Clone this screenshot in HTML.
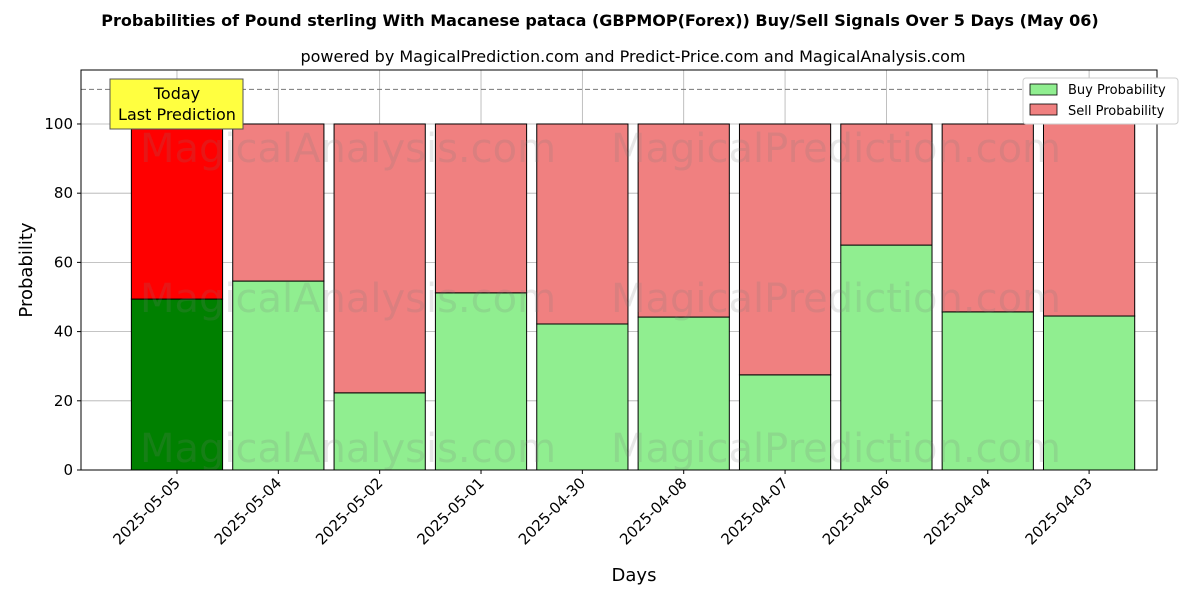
<!DOCTYPE html>
<html><head><meta charset="utf-8"><style>
body{margin:0;background:#fff;font-family:"Liberation Sans","DejaVu Sans",sans-serif}
svg text{font-family:"DejaVu Sans","Liberation Sans",sans-serif}
</style></head><body>
<svg id="chart" width="1200" height="600" xmlns="http://www.w3.org/2000/svg">
<text x="600" y="26" text-anchor="middle" font-size="16" font-weight="bold">Probabilities of Pound sterling With Macanese pataca (GBPMOP(Forex)) Buy/Sell Signals Over 5 Days (May 06)</text>
<text x="633" y="62" text-anchor="middle" font-size="16">powered by MagicalPrediction.com and Predict-Price.com and MagicalAnalysis.com</text>
<g id="grid"></g>
<g id="bars"></g>
<g id="wm" font-size="40" fill="rgba(120,120,120,0.18)" text-anchor="middle">
<text x="348" y="162">MagicalAnalysis.com</text><text x="836" y="162">MagicalPrediction.com</text>
<text x="348" y="312">MagicalAnalysis.com</text><text x="836" y="312">MagicalPrediction.com</text>
<text x="348" y="462">MagicalAnalysis.com</text><text x="836" y="462">MagicalPrediction.com</text>
</g>
<g id="axes"></g>
<text x="634" y="581" text-anchor="middle" font-size="18">Days</text>
<text transform="translate(32,270) rotate(-90)" text-anchor="middle" font-size="18">Probability</text>
<g>
<rect x="1023" y="78" width="155" height="46" fill="#fff" stroke="#ccc" rx="3"/>
<rect x="1030" y="84" width="27" height="11" fill="lightgreen" stroke="#000" stroke-width="0.8"/>
<text x="1068" y="94" font-size="13">Buy Probability</text>
<rect x="1030" y="104" width="27" height="11" fill="lightcoral" stroke="#000" stroke-width="0.8"/>
<text x="1068" y="115" font-size="13">Sell Probability</text>
</g>
</svg>
<script>
const categories=["2025-05-05","2025-05-04","2025-05-02","2025-05-01","2025-04-30","2025-04-08","2025-04-07","2025-04-06","2025-04-04","2025-04-03"];
const buyValues=[49.4,54.6,22.3,51.2,42.2,44.2,27.5,65.0,45.7,44.5];
const sellValues=buyValues.map(v=>100-v);
const yTicks=[0,20,40,60,80,100];
const NS="http://www.w3.org/2000/svg";
const L=81,R=1157,T=70,B=470,xmin=-0.947,xmax=9.67,ymax=115.6;
const xs=i=>L+(i-xmin)/(xmax-xmin)*(R-L);
const ys=v=>B-v/ymax*(B-T);
const bw=0.9*(R-L)/(xmax-xmin);
function mk(t,a,p){const e=document.createElementNS(NS,t);for(const k in a)e.setAttribute(k,a[k]);p.appendChild(e);return e;}
const grid=document.getElementById('grid'),bars=document.getElementById('bars'),axes=document.getElementById('axes');
yTicks.forEach(v=>{const l=mk('line',{x1:L,x2:R,y1:ys(v),y2:ys(v),stroke:'#b0b0b0','stroke-width':0.8},grid);

const t=mk('text',{x:L-8,y:ys(v)+5,'text-anchor':'end','font-size':15},axes);t.textContent=v;

mk('line',{x1:L-4,x2:L,y1:ys(v),y2:ys(v),stroke:'#000'},axes);});
categories.forEach((c,i)=>{const x=xs(i);
const g=mk('line',{x1:x,x2:x,y1:T,y2:B,stroke:'#b0b0b0','stroke-width':0.8},grid);

const b=mk('rect',{x:x-bw/2,y:ys(buyValues[i]),width:bw,height:ys(0)-ys(buyValues[i]),fill:i==0?'green':'lightgreen',stroke:'#000','stroke-width':1},bars);

const s=mk('rect',{x:x-bw/2,y:ys(buyValues[i]+sellValues[i]),width:bw,height:ys(buyValues[i])-ys(buyValues[i]+sellValues[i]),fill:i==0?'red':'lightcoral',stroke:'#000','stroke-width':1},bars);

mk('line',{x1:x,x2:x,y1:B,y2:B+4,stroke:'#000'},axes);
const t=mk('text',{transform:`translate(${x+4},${B+14}) rotate(-45)`,'text-anchor':'end','font-size':15},axes);t.textContent=c;
});
const d=mk('line',{x1:L,x2:R,y1:ys(110),y2:ys(110),stroke:'#777','stroke-dasharray':'5,3','stroke-width':1},axes);

const f=mk('rect',{x:L,y:T,width:R-L,height:B-T,fill:'none',stroke:'#000','stroke-width':1},axes);

const ann=mk('g',{},axes);
mk('rect',{x:110,y:79,width:133,height:50,fill:'#ffff40',stroke:'#555'},ann);
const a1=mk('text',{x:177,y:99,'text-anchor':'middle','font-size':16},ann);a1.textContent='Today';
const a2=mk('text',{x:177,y:120,'text-anchor':'middle','font-size':16},ann);a2.textContent='Last Prediction';
</script>
</body></html>
